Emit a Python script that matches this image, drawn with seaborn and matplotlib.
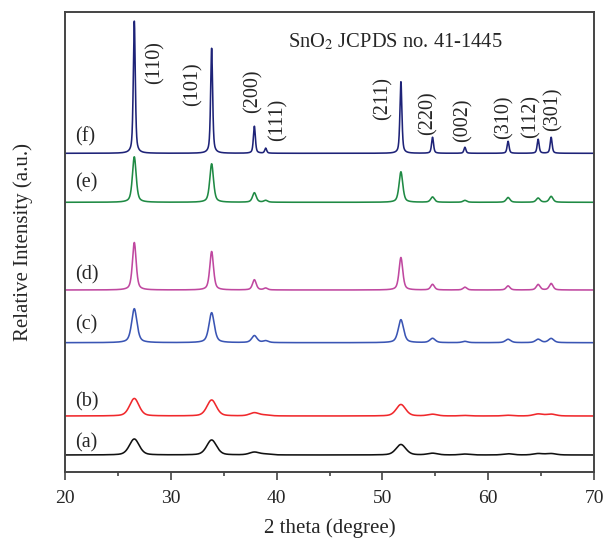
import numpy as np
import pandas as pd
import matplotlib
matplotlib.use("Agg")
import matplotlib.pyplot as plt
import seaborn as sns
from matplotlib.ticker import MultipleLocator

# ---- data ----
samples = ["(a)", "(b)", "(c)", "(d)", "(e)", "(f)"]
colors = ["#111111", "#f0282c", "#3a55b4", "#c048a0", "#1f8a44", "#1e2378"]
peak_pos = [26.55, 33.86, 37.90, 38.97, 51.75, 54.74, 57.80, 61.88, 64.72, 65.95]
hkl = ["(110)", "(101)", "(200)", "(111)", "(211)", "(220)", "(002)", "(310)", "(112)", "(301)"]
# peak heights above baseline (a.u.)
h_a = [16.0, 15.0, 2.8, 0.8, 10.5, 1.7, 0.9, 1.2, 1.4, 1.4]
h_b = [17.5, 16.0, 3.2, 0.8, 11.5, 1.7, 0.5, 0.7, 2.0, 1.8]
h_c = [34.0, 30.0, 7.0, 1.8, 23.0, 4.3, 1.3, 3.4, 3.4, 4.2]
h_d = [47.5, 38.5, 10.2, 1.8, 32.5, 5.6, 2.8, 4.1, 5.5, 6.5]
h_e = [45.5, 38.5, 9.5, 1.8, 30.5, 5.3, 1.9, 4.8, 4.2, 5.9]
h_f = [133.0, 105.0, 27.0, 5.0, 72.0, 16.0, 6.0, 12.0, 14.0, 16.0]
heights = [h_a, h_b, h_c, h_d, h_e, h_f]
fwhm = [1.1, 1.05, 0.6, 0.42, 0.42, 0.22]
baseline = [16.7, 55.7, 129.0, 181.7, 269.4, 318.4]
label_y = [28.5, 70.0, 146.5, 196.5, 288.5, 334.5]
hkl_x = [28.51, 32.07, 37.80, 40.13, 50.03, 54.31, 57.62, 61.49, 64.05, 66.13]
hkl_y = [408.7, 387.7, 380.7, 351.7, 372.7, 358.7, 351.7, 354.7, 354.7, 362.7]

two_theta = np.arange(20.0, 70.0001, 0.02)


def profile(x, pos, hts, w, eta=0.5):
    y = np.zeros_like(x)
    for p, h in zip(pos, hts):
        d = (x - p) / (w / 2.0)
        y += h * (eta / (1 + d ** 2) + (1 - eta) * np.exp(-np.log(2) * d ** 2))
    return y


frames = []
for s, hts, w, b in zip(samples, heights, fwhm, baseline):
    eta = 0.35 if w > 0.8 else 0.55
    frames.append(pd.DataFrame({"two_theta": two_theta,
                                "intensity": b + profile(two_theta, peak_pos, hts, w, eta),
                                "sample": s}))
df = pd.concat(frames, ignore_index=True)

sns.set_theme(style="white")
plt.rcParams["font.family"] = ["Liberation Serif", "DejaVu Serif"]
plt.rcParams["mathtext.fontset"] = "stix"

fig = plt.figure(figsize=(6.06, 5.39), dpi=100)
ax = fig.add_axes([65 / 606, 1 - 471.7 / 539, (594 - 65) / 606, (471.7 - 11.7) / 539])

sns.lineplot(data=df, x="two_theta", y="intensity", hue="sample",
             palette=dict(zip(samples, colors)), linewidth=1.15, legend=False,
             ax=ax, estimator=None, sort=False)

ax.set_xlim(20, 70)
ax.set_ylim(0, 460)
ax.set_yticks([])
ax.xaxis.set_major_locator(MultipleLocator(10))
ax.xaxis.set_minor_locator(MultipleLocator(5))
ax.tick_params(axis="x", which="major", direction="out", length=6, width=1.2,
               color="#444444", bottom=True, top=False, labelsize=14, pad=7)
ax.tick_params(axis="x", which="minor", direction="out", length=3, width=1.2,
               color="#444444", bottom=True, top=False)
for sp in ax.spines.values():
    sp.set_color("#444444")
    sp.set_linewidth(1.4)
ax.set_xlabel("2 theta (degree)", fontsize=15, labelpad=8)
ax.set_ylabel("Relative Intensity (a.u.)", fontsize=15, labelpad=23)

for s, ly in zip(samples, label_y):
    ax.text(20.95, ly, s, fontsize=14.5, ha="left", va="center")
for t, hx, hy in zip(hkl, hkl_x, hkl_y):
    ax.text(hx, hy, t, fontsize=14.5, rotation=90, ha="center", va="center")
ax.text(41.08, 429.7, r"SnO$_2$ JCPDS no. 41-1445", fontsize=14.8, ha="left", va="center")

fig.savefig("out.png", dpi=100)
